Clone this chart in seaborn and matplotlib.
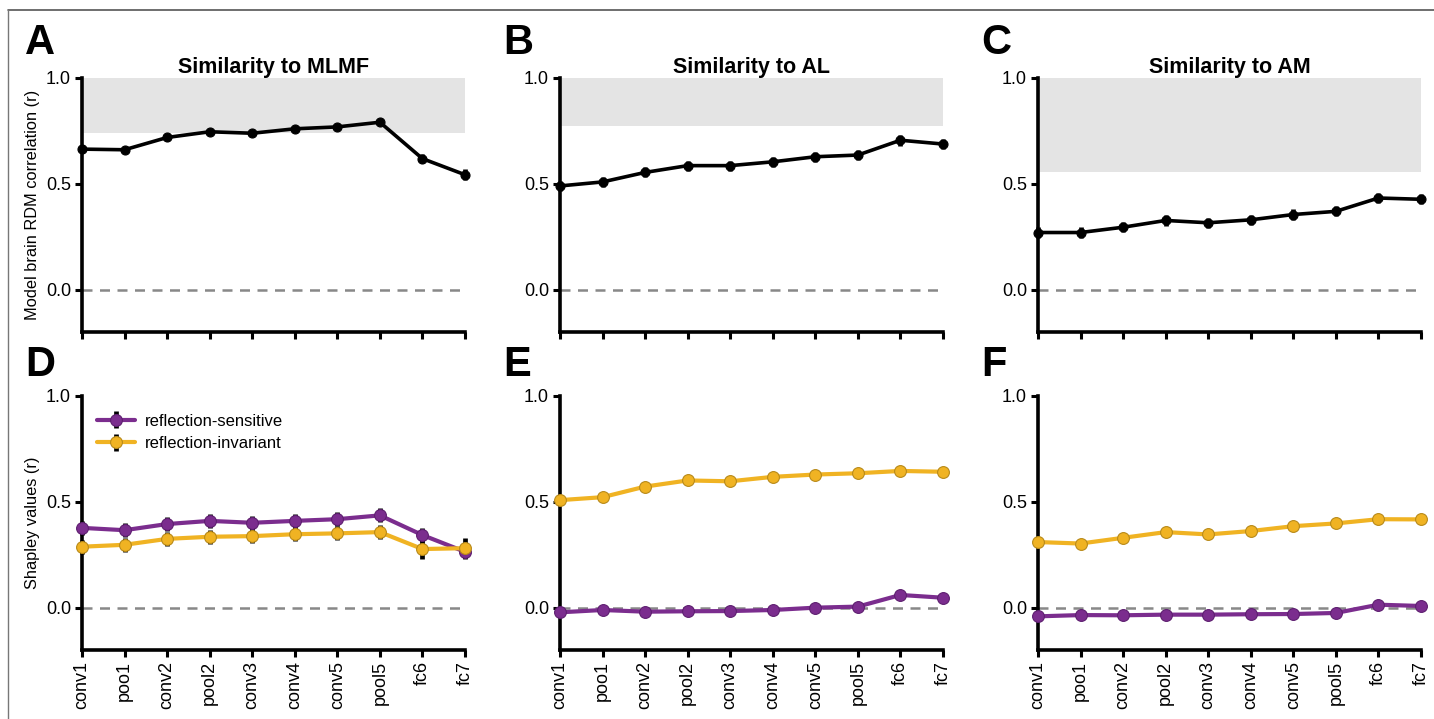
import matplotlib
matplotlib.use("Agg")
import matplotlib.pyplot as plt
import pandas as pd
import seaborn as sns
from matplotlib.legend_handler import HandlerTuple

layers = ["conv1", "poo1", "conv2", "pool2", "conv3", "conv4", "conv5", "pool5", "fc6", "fc7"]

# top row: model-brain RDM correlation
mlmf_r = [0.664, 0.661, 0.719, 0.746, 0.739, 0.760, 0.769, 0.791, 0.619, 0.543]
mlmf_err = [0.014, 0.014, 0.015, 0.015, 0.015, 0.015, 0.015, 0.015, 0.020, 0.027]
al_r = [0.490, 0.509, 0.554, 0.586, 0.586, 0.604, 0.628, 0.636, 0.706, 0.688]
al_err = [0.024, 0.024, 0.024, 0.024, 0.024, 0.024, 0.024, 0.024, 0.025, 0.025]
am_r = [0.270, 0.270, 0.295, 0.327, 0.316, 0.330, 0.355, 0.370, 0.433, 0.427]
am_err = [0.024, 0.024, 0.024, 0.024, 0.024, 0.024, 0.024, 0.024, 0.025, 0.024]
noise_ceiling = [0.741, 0.774, 0.557]

# bottom row: Shapley values
mlmf_sens = [0.377, 0.366, 0.395, 0.410, 0.401, 0.410, 0.418, 0.436, 0.343, 0.264]
mlmf_inv = [0.288, 0.297, 0.325, 0.335, 0.338, 0.347, 0.351, 0.357, 0.277, 0.281]
mlmf_sens_err = [0.033, 0.033, 0.033, 0.033, 0.033, 0.033, 0.033, 0.033, 0.033, 0.033]
mlmf_inv_err = [0.033, 0.033, 0.033, 0.033, 0.033, 0.033, 0.033, 0.033, 0.048, 0.048]
al_sens = [-0.022, -0.011, -0.019, -0.017, -0.016, -0.011, 0.000, 0.005, 0.060, 0.047]
al_inv = [0.508, 0.522, 0.572, 0.601, 0.597, 0.618, 0.629, 0.635, 0.646, 0.642]
al_sens_err = [0.008] * 10
al_inv_err = [0.022] * 10
am_sens = [-0.041, -0.035, -0.036, -0.033, -0.033, -0.031, -0.030, -0.025, 0.014, 0.008]
am_inv = [0.310, 0.303, 0.330, 0.357, 0.346, 0.362, 0.385, 0.398, 0.418, 0.417]
am_sens_err = [0.008] * 10
am_inv_err = [0.022] * 10

titles = ["Similarity to MLMF", "Similarity to AL", "Similarity to AM"]
letters_top = ["A", "B", "C"]
letters_bottom = ["D", "E", "F"]

PURPLE = "#7b2d8e"
ORANGE = "#f0b323"

sns.set_style("ticks")
plt.rcParams["font.family"] = ["Liberation Sans", "DejaVu Sans"]
plt.rcParams["text.color"] = "black"
plt.rcParams["axes.labelcolor"] = "black"

fig = plt.figure(figsize=(14.34, 7.19), dpi=100)

# frame lines (top and left)
fig.add_artist(plt.Line2D([8 / 1434, 1], [1 - 10 / 719, 1 - 10 / 719], color="#555555", lw=1.2))
fig.add_artist(plt.Line2D([8 / 1434, 8 / 1434], [0, 1 - 10 / 719], color="#777777", lw=1.0))

lefts = [82, 560, 1038]
W = 383
H = 254


def style_axis(ax, show_labels):
    ax.set_xlim(0, 9)
    ax.set_ylim(-0.2, 1.0)
    ax.set_yticks([0.0, 0.5, 1.0])
    ax.set_yticklabels(["0.0", "0.5", "1.0"])
    ax.set_xticks(range(10))
    if show_labels:
        ax.set_xticklabels(layers, rotation=90)
    else:
        ax.set_xticklabels([])
    for s in ["top", "right"]:
        ax.spines[s].set_visible(False)
    for s in ["left", "bottom"]:
        ax.spines[s].set_linewidth(2.6)
        ax.spines[s].set_color("black")
    ax.tick_params(width=2.2, length=5, labelsize=13, colors="black", pad=3)
    ax.axhline(0, color="#888888", lw=1.8, ls=(0, (4, 3)), zorder=1)
    ax.set_xlabel("")
    ax.set_ylabel("")


def draw_series(ax, vals, errs, color, edge, lw, ms):
    df = pd.DataFrame({"layer": range(10), "r": vals})
    eb = ax.errorbar(df["layer"], df["r"], yerr=errs, fmt="none", ecolor="black",
                     elinewidth=3.4, capsize=0, zorder=3, clip_on=False)
    sns.lineplot(data=df, x="layer", y="r", ax=ax, color=color, lw=lw, marker="o",
                 markersize=ms, markeredgecolor=edge, markeredgewidth=0.8,
                 zorder=4, clip_on=False, legend=False)
    line = ax.lines[-1]
    return eb, line


top_vals = [(mlmf_r, mlmf_err), (al_r, al_err), (am_r, am_err)]
bottom_vals = [
    (mlmf_sens, mlmf_sens_err, mlmf_inv, mlmf_inv_err),
    (al_sens, al_sens_err, al_inv, al_inv_err),
    (am_sens, am_sens_err, am_inv, am_inv_err),
]

for i in range(3):
    # top row
    ax = fig.add_axes([lefts[i] / 1434, 1 - 332 / 719, W / 1434, H / 719])
    ax.axhspan(noise_ceiling[i], 1.0, color="#e4e4e4", lw=0, zorder=0)
    vals, errs = top_vals[i]
    draw_series(ax, vals, errs, "black", "black", 2.6, 6.5)
    style_axis(ax, False)
    ax.set_title(titles[i], fontsize=15.5, fontweight="bold", pad=3)
    if i == 0:
        ax.set_ylabel("Model brain RDM correlation (r)", fontsize=11.8, labelpad=4)
    fig.text((lefts[i] - 57) / 1434, 1 - 43 / 719, letters_top[i], fontsize=30,
             fontweight="bold", va="center", ha="left", color="black")

    # bottom row
    ax2 = fig.add_axes([lefts[i] / 1434, 1 - 650 / 719, W / 1434, H / 719])
    sens, sens_err, inv, inv_err = bottom_vals[i]
    eb_s, ln_s = draw_series(ax2, sens, sens_err, PURPLE, "#5e1f70", 3.0, 8.5)
    eb_i, ln_i = draw_series(ax2, inv, inv_err, ORANGE, "#b88a1a", 3.0, 8.5)
    style_axis(ax2, True)
    if i == 0:
        ax2.set_ylabel("Shapley values (r)", fontsize=11.8, labelpad=4)
        ax2.legend([(eb_s, ln_s), (eb_i, ln_i)],
                   ["reflection-sensitive", "reflection-invariant"],
                   handler_map={tuple: HandlerTuple(ndivide=1)},
                   loc="upper left", bbox_to_anchor=(0.0, 0.99), frameon=False,
                   fontsize=12, handlelength=2.3, handletextpad=0.6,
                   labelspacing=0.45)
    fig.text((lefts[i] - 57) / 1434, 1 - 365 / 719, letters_bottom[i], fontsize=30,
             fontweight="bold", va="center", ha="left", color="black")

fig.savefig("out.png", dpi=100)
